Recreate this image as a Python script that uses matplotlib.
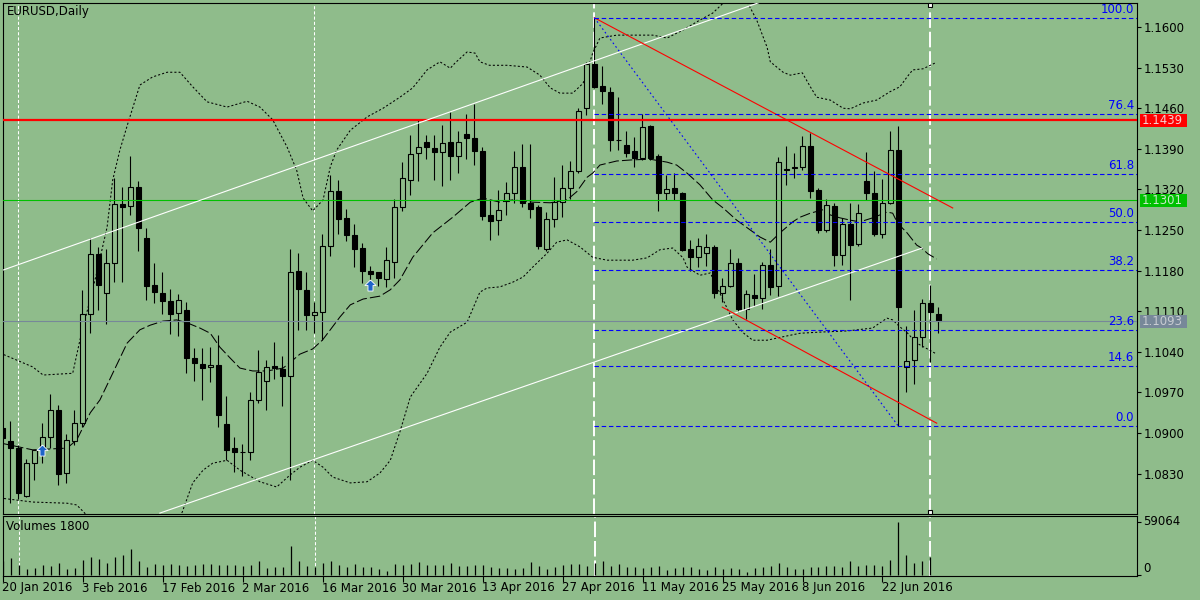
import numpy as np
import matplotlib
matplotlib.use("Agg")
import matplotlib.pyplot as plt
from matplotlib.path import Path
from matplotlib.patches import Rectangle
from matplotlib.transforms import blended_transform_factory

plt.rcParams['font.family'] = ['DejaVu Sans']
plt.rcParams['font.size'] = 8

bg = '#8fbc8b'

# daily EURUSD bars, 20 Jan 2016 .. 1 Jul 2016
opens = [1.0908, 1.0887, 1.0874, 1.0792, 1.0848, 1.0871, 1.0893, 1.0940, 1.0831, 1.0887,
         1.0917, 1.1105, 1.1209, 1.1142, 1.1194, 1.1295, 1.1292, 1.1324, 1.1236, 1.1156,
         1.1142, 1.1128, 1.1107, 1.1112, 1.1029, 1.1019, 1.1013, 1.1017, 1.0916, 1.0874,
         1.0867, 1.0868, 1.0957, 1.0990, 1.1016, 1.1010, 1.0999, 1.1179, 1.1147, 1.1103,
         1.1108, 1.1223, 1.1318, 1.1270, 1.1241, 1.1219, 1.1180, 1.1177, 1.1166, 1.1195,
         1.1290, 1.1337, 1.1382, 1.1401, 1.1392, 1.1385, 1.1401, 1.1378, 1.1415, 1.1408,
         1.1386, 1.1276, 1.1268, 1.1300, 1.1314, 1.1358, 1.1297, 1.1289, 1.1217, 1.1269,
         1.1299, 1.1322, 1.1351, 1.1460, 1.1536, 1.1498, 1.1488, 1.1406, 1.1396, 1.1386,
         1.1374, 1.1429, 1.1378, 1.1313, 1.1322, 1.1314, 1.1217, 1.1203, 1.1210, 1.1221,
         1.1141, 1.1154, 1.1193, 1.1113, 1.1138, 1.1133, 1.1190, 1.1154, 1.1356, 1.1357,
         1.1359, 1.1395, 1.1319, 1.1250, 1.1291, 1.1207, 1.1260, 1.1226, 1.1334, 1.1314,
         1.1243, 1.1297, 1.1388, 1.1014, 1.1026, 1.1065, 1.1125, 1.1106]
highs = [1.0917, 1.0921, 1.0879, 1.0856, 1.0871, 1.0917, 1.0968, 1.0948, 1.0899, 1.0940,
         1.1147, 1.1237, 1.1221, 1.1218, 1.1339, 1.1325, 1.1378, 1.1335, 1.1253, 1.1193,
         1.1178, 1.1149, 1.1140, 1.1126, 1.1046, 1.1046, 1.1049, 1.1069, 1.0964, 1.0894,
         1.0881, 1.0971, 1.1044, 1.1026, 1.1057, 1.1033, 1.1218, 1.1210, 1.1178, 1.1126,
         1.1243, 1.1345, 1.1336, 1.1286, 1.1260, 1.1227, 1.1188, 1.1178, 1.1220, 1.1303,
         1.1367, 1.1414, 1.1440, 1.1414, 1.1414, 1.1431, 1.1454, 1.1421, 1.1450, 1.1467,
         1.1393, 1.1302, 1.1319, 1.1333, 1.1386, 1.1398, 1.1398, 1.1293, 1.1281, 1.1342,
         1.1362, 1.1369, 1.1460, 1.1540, 1.1616, 1.1532, 1.1496, 1.1480, 1.1421, 1.1411,
         1.1450, 1.1431, 1.1381, 1.1345, 1.1349, 1.1316, 1.1233, 1.1237, 1.1244, 1.1224,
         1.1168, 1.1218, 1.1202, 1.1147, 1.1174, 1.1195, 1.1218, 1.1376, 1.1394, 1.1382,
         1.1412, 1.1418, 1.1322, 1.1303, 1.1297, 1.1270, 1.1296, 1.1295, 1.1384, 1.1351,
         1.1338, 1.1421, 1.1429, 1.1084, 1.1112, 1.1131, 1.1155, 1.1118]
lows = [1.0882, 1.0779, 1.0787, 1.0789, 1.0819, 1.0848, 1.0874, 1.0810, 1.0813, 1.0879,
        1.0911, 1.1072, 1.1112, 1.1088, 1.1161, 1.1161, 1.1276, 1.1214, 1.1129, 1.1124,
        1.1106, 1.1070, 1.1067, 1.1003, 1.0990, 1.0957, 1.0988, 1.0911, 1.0853, 1.0833,
        1.0826, 1.0853, 1.0951, 1.0940, 1.0993, 1.0947, 1.0819, 1.1078, 1.1078, 1.1072,
        1.1060, 1.1205, 1.1244, 1.1231, 1.1187, 1.1158, 1.1147, 1.1154, 1.1152, 1.1168,
        1.1283, 1.1310, 1.1334, 1.1372, 1.1336, 1.1326, 1.1337, 1.1349, 1.1372, 1.1362,
        1.1267, 1.1232, 1.1242, 1.1276, 1.1297, 1.1290, 1.1270, 1.1217, 1.1214, 1.1256,
        1.1272, 1.1303, 1.1349, 1.1449, 1.1494, 1.1467, 1.1387, 1.1388, 1.1376, 1.1359,
        1.1371, 1.1371, 1.1283, 1.1302, 1.1302, 1.1213, 1.1180, 1.1187, 1.1188, 1.1133,
        1.1126, 1.1151, 1.1109, 1.1096, 1.1119, 1.1113, 1.1138, 1.1136, 1.1328, 1.1339,
        1.1354, 1.1306, 1.1245, 1.1247, 1.1188, 1.1190, 1.1129, 1.1222, 1.1302, 1.1240,
        1.1237, 1.1295, 1.0912, 1.0970, 1.0985, 1.1049, 1.1023, 1.1072]
closes = [1.0891, 1.0874, 1.0797, 1.0849, 1.0870, 1.0893, 1.0940, 1.0830, 1.0888, 1.0918,
          1.1105, 1.1208, 1.1156, 1.1193, 1.1295, 1.1290, 1.1325, 1.1254, 1.1154, 1.1144,
          1.1128, 1.1106, 1.1130, 1.1030, 1.1020, 1.1012, 1.1018, 1.0931, 1.0871, 1.0867,
          1.0868, 1.0957, 1.1006, 1.1013, 1.1012, 1.0999, 1.1178, 1.1148, 1.1104, 1.1109,
          1.1223, 1.1318, 1.1269, 1.1241, 1.1217, 1.1180, 1.1174, 1.1167, 1.1198, 1.1290,
          1.1339, 1.1381, 1.1393, 1.1393, 1.1385, 1.1400, 1.1378, 1.1401, 1.1409, 1.1387,
          1.1275, 1.1266, 1.1284, 1.1313, 1.1358, 1.1297, 1.1287, 1.1222, 1.1269, 1.1299,
          1.1322, 1.1352, 1.1455, 1.1536, 1.1497, 1.1489, 1.1406, 1.1405, 1.1383, 1.1374,
          1.1427, 1.1375, 1.1313, 1.1320, 1.1314, 1.1215, 1.1203, 1.1222, 1.1220, 1.1141,
          1.1154, 1.1194, 1.1113, 1.1139, 1.1133, 1.1190, 1.1151, 1.1367, 1.1354, 1.1358,
          1.1395, 1.1318, 1.1250, 1.1293, 1.1207, 1.1260, 1.1224, 1.1279, 1.1314, 1.1243,
          1.1297, 1.1388, 1.1118, 1.1024, 1.1066, 1.1124, 1.1108, 1.1093]
volumes = [16000, 19196, 11813, 7383, 8121, 11813, 10336, 13659, 7383, 8121,
           16981, 20303, 18088, 14028, 20303, 22518, 29163, 15873, 9229, 12551,
           11074, 12551, 11813, 9967, 11074, 12551, 12182, 11074, 11074, 11074,
           9967, 11074, 15873, 8121, 9229, 9229, 32485, 15873, 10336, 9229,
           13659, 15873, 11813, 9229, 12551, 9229, 9229, 6645, 4430, 12551,
           11074, 12551, 14766, 11074, 11813, 11813, 13659, 10336, 9967, 11813,
           11813, 9229, 8121, 8121, 7383, 8121, 14766, 10336, 7383, 9229,
           11813, 12551, 12551, 10336, 13659, 15873, 10336, 12551, 9229, 9229,
           8121, 9229, 10336, 5906, 8121, 9229, 9229, 6645, 5906, 9229,
           6645, 8121, 7383, 3692, 8121, 9229, 10336, 13659, 9229, 6645,
           6645, 9229, 9229, 10336, 10336, 9229, 15873, 10336, 11813, 11813,
           10336, 16981, 59064, 22518, 13659, 15873, 20303, 738]

date_tick_bars = [0, 10, 20, 30, 40, 50, 60, 70, 80, 90, 100, 110]
date_tick_labels = ['20 Jan 2016', '3 Feb 2016', '17 Feb 2016', '2 Mar 2016', '16 Mar 2016',
                    '30 Mar 2016', '13 Apr 2016', '27 Apr 2016', '11 May 2016', '25 May 2016',
                    '8 Jun 2016', '22 Jun 2016']
price_ticks = [1.0830, 1.0900, 1.0970, 1.1040, 1.1110, 1.1180,
               1.1250, 1.1320, 1.1390, 1.1460, 1.1530, 1.1600]

# Bollinger bands (bar position, price)
bb_up_x = [-0.3, 3.8, 5.1, 8.8, 9.7, 11.8, 13.1, 13.8, 14.7, 15.7, 17.2, 18.8, 20.6, 22.2, 23.8,
           25.6, 28.1, 30.6, 32.2, 33.8, 35.6, 36.8, 37.6, 38.8, 40.1, 41.0, 41.8, 43.5, 45.6,
           47.6, 49.7, 51.3, 53.1, 54.7, 56.0, 56.6, 58.1, 59.1, 59.7, 60.9, 63.1, 65.6, 67.2,
           68.5, 69.7, 71.3, 72.6, 73.8, 74.7, 76.8, 81.3, 83.1, 85.1, 87.2, 88.8, 90.1, 91.6,
           93.2, 94.3, 95.6, 96.0, 97.6, 98.5, 100.0, 101.0, 101.8, 103.5, 105.1, 106.0, 107.6,
           109.3, 110.9, 112.2, 113.1, 113.8, 115.1, 116.6]
bb_up_y = [1.1038, 1.1014, 1.1000, 1.1003, 1.1060, 1.1176, 1.1255, 1.1336, 1.1388, 1.1434,
           1.1500, 1.1514, 1.1522, 1.1522, 1.1497, 1.1471, 1.1462, 1.1472, 1.1462, 1.1440,
           1.1393, 1.1353, 1.1305, 1.1283, 1.1302, 1.1359, 1.1388, 1.1422, 1.1445, 1.1460,
           1.1479, 1.1495, 1.1526, 1.1540, 1.1529, 1.1538, 1.1557, 1.1555, 1.1540, 1.1534,
           1.1534, 1.1531, 1.1517, 1.1495, 1.1486, 1.1486, 1.1503, 1.1555, 1.1581, 1.1586,
           1.1586, 1.1581, 1.1595, 1.1612, 1.1624, 1.1641, 1.1652, 1.1641, 1.1612, 1.1565,
           1.1540, 1.1522, 1.1517, 1.1521, 1.1497, 1.1479, 1.1474, 1.1460, 1.1459, 1.1469,
           1.1474, 1.1488, 1.1497, 1.1514, 1.1526, 1.1528, 1.1538]
bb_mid_x = [-0.3, 3.8, 8.1, 9.3, 11.0, 12.2, 13.8, 15.6, 17.2, 18.5, 20.1, 21.8, 23.1, 24.7,
            26.0, 27.2, 28.5, 29.7, 31.3, 33.1, 35.1, 36.0, 37.2, 38.8, 40.0, 41.0, 42.2, 43.5,
            45.1, 47.2, 48.5, 49.7, 51.3, 53.8, 56.3, 58.5, 60.1, 62.2, 63.8, 66.3, 68.5, 70.6,
            71.8, 73.1, 73.8, 74.7, 76.8, 78.8, 81.0, 83.1, 84.3, 85.6, 87.2, 88.8, 90.1, 91.8,
            93.5, 94.7, 96.0, 97.2, 98.8, 99.7, 101.0, 102.6, 103.5, 104.7, 106.0, 107.2, 108.8,
            110.6, 111.3, 111.9, 113.1, 114.3, 114.9, 115.7, 116.8]
bb_mid_y = [1.0883, 1.0871, 1.0874, 1.0888, 1.0935, 1.0957, 1.1003, 1.1055, 1.1078, 1.1086,
            1.1093, 1.1095, 1.1090, 1.1081, 1.1072, 1.1048, 1.1029, 1.1012, 1.1007, 1.1007,
            1.1012, 1.1022, 1.1036, 1.1045, 1.1060, 1.1078, 1.1100, 1.1121, 1.1131, 1.1136,
            1.1147, 1.1164, 1.1203, 1.1245, 1.1272, 1.1298, 1.1305, 1.1298, 1.1302, 1.1298,
            1.1297, 1.1302, 1.1316, 1.1341, 1.1348, 1.1362, 1.1369, 1.1371, 1.1372, 1.1367,
            1.1362, 1.1348, 1.1328, 1.1302, 1.1288, 1.1267, 1.1250, 1.1238, 1.1229, 1.1245,
            1.1264, 1.1272, 1.1279, 1.1285, 1.1276, 1.1271, 1.1267, 1.1264, 1.1271, 1.1281,
            1.1279, 1.1262, 1.1245, 1.1224, 1.1219, 1.1209, 1.1200]
bb_low_x = [-0.3, 3.8, 8.1, 9.3, 10.3, 11.2, 21.6, 22.5, 23.8, 25.1, 26.3, 28.1, 29.7, 32.2,
            34.3, 36.0, 37.2, 38.8, 40.1, 41.3, 43.5, 45.6, 47.2, 48.5, 49.7, 51.0, 53.1, 54.7,
            56.0, 58.1, 59.7, 60.6, 62.2, 63.8, 65.1, 66.3, 68.1, 69.3, 70.6, 72.2, 73.8, 75.6,
            78.8, 80.6, 82.2, 83.8, 85.1, 85.6, 87.2, 88.5, 89.7, 91.3, 92.6, 93.8, 95.6, 97.6,
            99.7, 102.2, 105.6, 108.8, 109.7, 110.6, 111.3, 112.2, 113.1, 114.3, 115.9, 116.8]
bb_low_y = [1.0788, 1.0781, 1.0779, 1.0776, 1.0762, 1.0741, 1.0741, 1.0764, 1.0814, 1.0836,
            1.0848, 1.0853, 1.0836, 1.0816, 1.0807, 1.0828, 1.0841, 1.0853, 1.0841, 1.0824,
            1.0814, 1.0816, 1.0831, 1.0853, 1.0902, 1.0962, 1.1003, 1.1048, 1.1074, 1.1091,
            1.1143, 1.1150, 1.1152, 1.1160, 1.1169, 1.1186, 1.1210, 1.1229, 1.1233, 1.1221,
            1.1203, 1.1198, 1.1198, 1.1202, 1.1216, 1.1219, 1.1202, 1.1186, 1.1172, 1.1176,
            1.1141, 1.1095, 1.1073, 1.1060, 1.1060, 1.1066, 1.1072, 1.1074, 1.1076, 1.1081,
            1.1090, 1.1098, 1.1095, 1.1083, 1.1073, 1.1055, 1.1043, 1.1036]

# drawn objects
fib_high, fib_low = 1.1616, 1.0912
fib_start_bar = 74
fib_levels = [0.0, 14.6, 23.6, 38.2, 50.0, 61.8, 76.4, 100.0]
red_level, green_level, bid_price = 1.1439, 1.1301, 1.1093
channel_top = [(0.1, 1.1181), (96.0, 1.1649)]
channel_bottom = [(19.7, 1.0762), (115.0, 1.1219)]
red_trend_top = [(74.0, 1.1616), (118.8, 1.1288)]
red_trend_bottom = [(90.0, 1.1117), (116.8, 1.0917)]
fib_diagonal = [(74.0, 1.1616), (112.0, 1.0912)]
thin_vlines = [2, 39]
thick_vlines = [74, 116]
buy_arrows = [(5, 1.0871), (46, 1.1155)]

# ---- figure layout (pixel based, 1200x600) ----
W, H = 1200, 600
fig = plt.figure(figsize=(12, 6), dpi=100, facecolor=bg)
ax = fig.add_axes([3 / W, 86 / H, 1134 / W, 511 / H], facecolor=bg)
vax = fig.add_axes([3 / W, 24 / H, 1134 / W, 60 / H], facecolor=bg)

x_lo, x_hi = (3 - 2.3) / 8, (1137 - 2.3) / 8
y_lo, y_hi = 1.07604, 1.16414
for a in (ax, vax):
    a.set_xlim(x_lo, x_hi)
    for s in a.spines.values():
        s.set_color('black')
        s.set_linewidth(0.8)
ax.set_ylim(y_lo, y_hi)
vax.set_ylim(-800, 65700)

n = len(opens)
idx = np.arange(n)
o, hi_, lo_, c = map(np.array, (opens, highs, lows, closes))
up = c >= o

# vertical lines in both panels (behind the bars)
for a in (ax, vax):
    for b in thin_vlines:
        a.axvline(b, color='white', lw=0.75, ls=(0, (3, 2)), zorder=1.5)
    for b in thick_vlines:
        a.axvline(b, color='white', lw=1.4, ls=(0, (8, 2)), zorder=1.5)

# bands
ax.plot(bb_up_x, bb_up_y, color='black', lw=0.75, ls=(0, (2, 2)), zorder=2)
ax.plot(bb_low_x, bb_low_y, color='black', lw=0.75, ls=(0, (2, 2)), zorder=2)
ax.plot(bb_mid_x, bb_mid_y, color='black', lw=0.75, ls=(0, (10, 3)), zorder=2)

# candles
ax.vlines(idx, lo_, hi_, color='black', lw=0.8, zorder=3)
body_lo = np.minimum(o, c)
body_h = np.maximum(np.abs(c - o), 0.00005)
ax.bar(idx, body_h, bottom=body_lo, width=0.62,
       color=[bg if u else 'black' for u in up], edgecolor='black', linewidth=0.8, zorder=4)

# horizontal lines
ax.axhline(red_level, color='#ff0000', lw=1.6, zorder=6)
ax.axhline(green_level, color='#00c000', lw=0.8, zorder=6)
ax.axhline(bid_price, color='#778899', lw=0.8, zorder=6)

# channel, trend lines
for pts in (channel_top, channel_bottom):
    ax.plot(*zip(*pts), color='white', lw=0.8, zorder=6)
for pts in (red_trend_top, red_trend_bottom):
    ax.plot(*zip(*pts), color='#ff0000', lw=0.8, zorder=6)
ax.plot(*zip(*fib_diagonal), color='#0000ff', lw=0.8, ls=(0, (1.5, 2.5)), zorder=6)

# fibonacci levels
for lvl in fib_levels:
    p = fib_low + lvl / 100 * (fib_high - fib_low)
    ax.hlines(p, fib_start_bar, x_hi, color='#0000ff', lw=0.8, ls=(0, (4, 2.5)), zorder=6)
    ax.annotate('%.1f' % lvl, xy=(x_hi, p), xytext=(-2, 1.5), textcoords='offset points',
                ha='right', va='bottom', color='#0000ff', fontsize=8.5, zorder=7)

# selection handles of the last vertical line
ax.plot([thick_vlines[1]] * 2, [y_hi - 0.0003, y_lo + 0.0003], 's', ms=3, mfc='white',
        mec='black', mew=0.8, clip_on=False, zorder=12)

# buy arrows
arrow = Path([(0, 1), (1, 0), (0.45, 0), (0.45, -1), (-0.45, -1), (-0.45, 0), (-1, 0), (0, 1)])
ax.plot(*zip(*buy_arrows), ls='none', marker=arrow, ms=8, mfc='#1e64c8', mec='white',
        mew=0.6, zorder=8)

# price axis
ax.set_xticks([])
ax.yaxis.tick_right()
ax.set_yticks(price_ticks)
ax.set_yticklabels(['%.4f' % t for t in price_ticks])
ax.tick_params(axis='y', length=3, width=0.8, pad=1.5, labelsize=8.5, colors='black')

trans_box = blended_transform_factory(fig.transFigure, ax.transData)
box_h = (y_hi - y_lo) * 13 / 511
for price, fc, tc in [(red_level, '#ff0000', '#f4d0d0'), (green_level, '#00c000', '#c8e8c8'),
                      (bid_price, '#778899', '#c8ccd2')]:
    ax.add_patch(Rectangle((1140 / W, price - box_h / 2), 47 / W, box_h, transform=trans_box,
                           facecolor=fc, edgecolor='none', clip_on=False, zorder=20))
    ax.text(1142 / W, price, '%.4f' % price, transform=trans_box, color=tc, fontsize=8.5,
            va='center', ha='left', clip_on=False, zorder=21)

fig.text(7 / W, 1 - 12 / H, 'EURUSD,Daily', fontsize=8.5, va='center', ha='left')

# volume panel
vax.vlines(idx, 0, volumes, color='black', lw=0.9, zorder=3)
vax.set_xticks(date_tick_bars)
vax.set_xticklabels([])
vax.tick_params(axis='x', length=4, width=0.8)
vax.yaxis.tick_right()
vax.set_yticks([0, max(volumes)])
vax.set_yticklabels([])
vax.tick_params(axis='y', length=3, width=0.8)
tv = blended_transform_factory(fig.transFigure, vax.transData)
vax.text(1143 / W, max(volumes), str(max(volumes)), transform=tv, va='center', ha='left',
         fontsize=8.5, clip_on=False)
vax.text(1143 / W, 0, '0', transform=tv, va='bottom', ha='left', fontsize=8.5, clip_on=False)
fig.text(6 / W, 1 - 527 / H, 'Volumes 1800', fontsize=8.5, va='center', ha='left')

td = blended_transform_factory(vax.transData, fig.transFigure)
for b, lab in zip(date_tick_bars, date_tick_labels):
    vax.text(b - 0.1, 1 - 588 / H, lab, transform=td, va='center', ha='left', fontsize=8.5,
             clip_on=False)

fig.savefig('out.png', dpi=100, facecolor=bg)
